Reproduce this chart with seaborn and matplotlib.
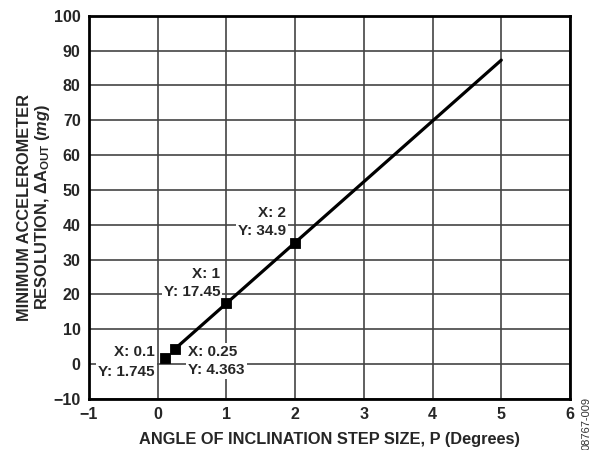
import matplotlib.pyplot as plt
import pandas as pd
import seaborn as sns

# line data (mg resolution vs step size)
line_x = [0.25, 1, 2, 5]
line_y = [4.363, 17.45, 34.9, 87.25]

# marked points
point_x = [0.1, 0.25, 1, 2]
point_y = [1.745, 4.363, 17.45, 34.9]
point_labels = ["X: 0.1\nY: 1.745", "X: 0.25\nY: 4.363", "X: 1\nY: 17.45", "X: 2\nY: 34.9"]

x_ticks = [-1, 0, 1, 2, 3, 4, 5, 6]
y_ticks = [-10, 0, 10, 20, 30, 40, 50, 60, 70, 80, 90, 100]

sns.set_style("white")
plt.rcParams['font.family'] = ['Liberation Sans', 'DejaVu Sans']
plt.rcParams['font.weight'] = 'bold'
plt.rcParams['mathtext.fontset'] = 'custom'
plt.rcParams['mathtext.rm'] = 'Liberation Sans:bold'
plt.rcParams['mathtext.it'] = 'Liberation Sans:bold:italic'
plt.rcParams['mathtext.bf'] = 'Liberation Sans:bold'

df_line = pd.DataFrame({'x': line_x, 'y': line_y})
df_pts = pd.DataFrame({'x': point_x, 'y': point_y})

fig = plt.figure(figsize=(5.97, 4.5), dpi=100)
ax = fig.add_axes([89 / 597, 1 - 399 / 450, (570 - 89) / 597, (399 - 15.7) / 450])

sns.lineplot(data=df_line, x='x', y='y', ax=ax, color='black', linewidth=2.3, zorder=3)
sns.scatterplot(data=df_pts, x='x', y='y', ax=ax, marker='s', s=55, color='black',
                edgecolor='black', zorder=5)

ax.set_xlim(-1, 6)
ax.set_ylim(-10, 100)
ax.set_xticks(x_ticks)
ax.set_yticks(y_ticks)
ax.grid(True, color='#444444', linewidth=1.2)
ax.set_axisbelow(True)
for s in ax.spines.values():
    s.set_color('black')
    s.set_linewidth(2)
ax.tick_params(length=0, pad=6, labelsize=11.5)
for lbl in ax.get_xticklabels() + ax.get_yticklabels():
    lbl.set_fontweight('bold')

# annotations with white boxes
box = dict(facecolor='white', edgecolor='none', pad=1.5)
label_pos = [(-0.04, 0.6, 'right', 1.55), (0.44, 0.9, 'left', 1.3),
             (0.91, 23.3, 'right', 1.3), (1.87, 40.8, 'right', 1.3)]
for (lx, ly, ha, ls), txt in zip(label_pos, point_labels):
    ax.text(lx, ly, txt, ha=ha, va='center', multialignment=ha, fontsize=11,
            fontweight='bold', linespacing=ls, bbox=box, zorder=4)

ax.set_xlabel('ANGLE OF INCLINATION STEP SIZE, P (Degrees)', fontsize=11.8,
              fontweight='bold', labelpad=7)
ax.set_ylabel('MINIMUM ACCELEROMETER\nRESOLUTION, ΔA$_{\\mathrm{OUT}}$ ($\\mathit{mg}$)',
              fontsize=11.8, fontweight='bold', labelpad=1, linespacing=1.05)

fig.text(587 / 597, 1 - 423 / 450, '08767-009', rotation=90, ha='center', va='center',
         fontsize=8, fontweight='normal', color='#333333')

fig.savefig('out.png', dpi=100)
